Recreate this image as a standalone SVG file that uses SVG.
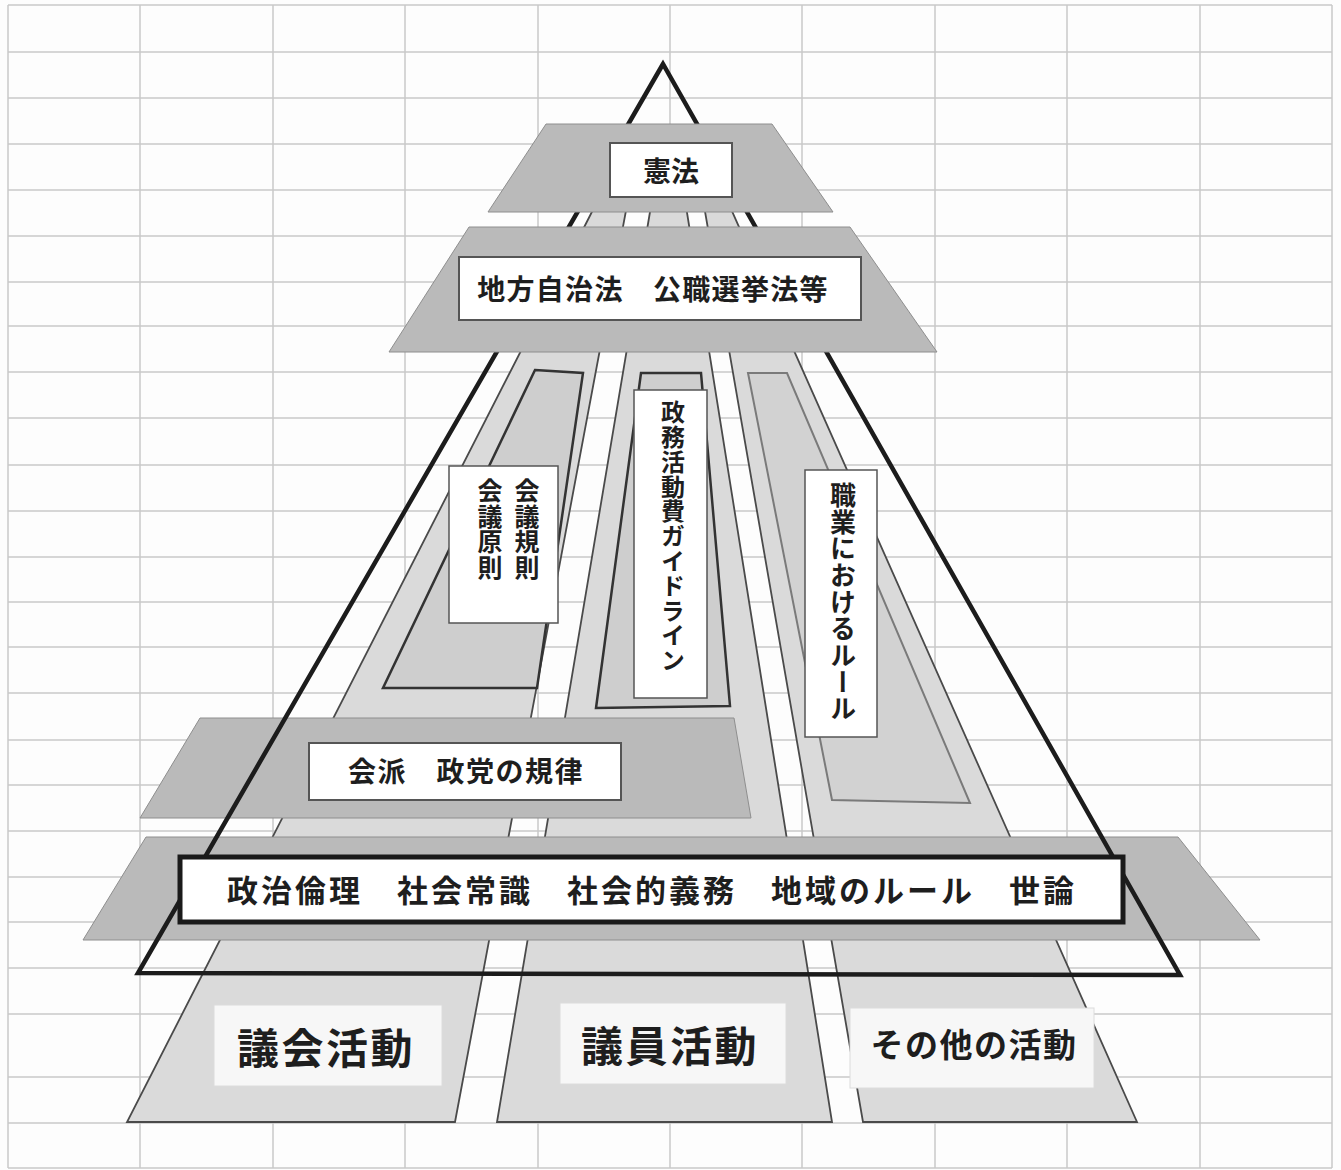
<svg xmlns="http://www.w3.org/2000/svg" width="1341" height="1170" viewBox="0 0 1341 1170">
<style>
.grid line{stroke:#c8c8c8;stroke-width:1.5}
.col{fill:#dadada;stroke:#4a4a4a;stroke-width:1.8}
.panel{fill:#cecece;stroke:#333;stroke-width:2.5}
.panel2{fill:#d2d2d2;stroke:#7a7a7a;stroke-width:2}
.band{fill:#bababa;stroke:#8e8e8e;stroke-width:1}
.box{fill:#fff;stroke:#555;stroke-width:2}
.vbox{fill:#fff;stroke:#555;stroke-width:1.5}
.bbox{fill:#f7f7f7;stroke:#dcdcdc;stroke-width:1}
text{font-family:"Noto Sans CJK JP","Noto Sans CJK SC",sans-serif;font-weight:bold;fill:#1e1e1e}
.h{text-anchor:middle;dominant-baseline:central}
.v{writing-mode:vertical-rl;text-anchor:start}
</style>
<rect width="1341" height="1170" fill="#fdfdfd"/>
<g class="grid" id="grid">
<line x1="8" y1="5" x2="8" y2="1168"/><line x1="140" y1="5" x2="140" y2="1168"/><line x1="273" y1="5" x2="273" y2="1168"/><line x1="405" y1="5" x2="405" y2="1168"/><line x1="538" y1="5" x2="538" y2="1168"/><line x1="670" y1="5" x2="670" y2="1168"/><line x1="802" y1="5" x2="802" y2="1168"/><line x1="935" y1="5" x2="935" y2="1168"/><line x1="1067" y1="5" x2="1067" y2="1168"/><line x1="1200" y1="5" x2="1200" y2="1168"/><line x1="1332" y1="5" x2="1332" y2="1168"/>
<line x1="8" y1="5" x2="1332" y2="5"/><line x1="8" y1="52" x2="1332" y2="52"/><line x1="8" y1="98" x2="1332" y2="98"/><line x1="8" y1="144" x2="1332" y2="144"/><line x1="8" y1="190" x2="1332" y2="190"/><line x1="8" y1="236" x2="1332" y2="236"/><line x1="8" y1="282" x2="1332" y2="282"/><line x1="8" y1="326" x2="1332" y2="326"/><line x1="8" y1="372" x2="1332" y2="372"/><line x1="8" y1="418" x2="1332" y2="418"/><line x1="8" y1="465" x2="1332" y2="465"/><line x1="8" y1="511" x2="1332" y2="511"/><line x1="8" y1="557" x2="1332" y2="557"/><line x1="8" y1="602" x2="1332" y2="602"/><line x1="8" y1="647" x2="1332" y2="647"/><line x1="8" y1="693" x2="1332" y2="693"/><line x1="8" y1="740" x2="1332" y2="740"/><line x1="8" y1="785" x2="1332" y2="785"/><line x1="8" y1="831" x2="1332" y2="831"/><line x1="8" y1="877" x2="1332" y2="877"/><line x1="8" y1="922" x2="1332" y2="922"/><line x1="8" y1="968" x2="1332" y2="968"/><line x1="8" y1="1014" x2="1332" y2="1014"/><line x1="8" y1="1077" x2="1332" y2="1077"/><line x1="8" y1="1123" x2="1332" y2="1123"/><line x1="8" y1="1168" x2="1332" y2="1168"/>
</g>
<g id="col-gikai"><polygon class="col" points="598,200 628,200 455,1122 127,1122"/></g>
<g id="col-giin"><polygon class="col" points="652,200 685,200 832,1122 497,1122"/></g>
<g id="col-other"><polygon class="col" points="703,200 727,200 1137,1122 863,1122"/></g>
<g id="panel-a"><polygon class="panel" points="535,370 583,373 537,688 383,688"/></g>
<g id="panel-b"><polygon class="panel" points="641,373 701,373 730,706 596,708"/></g>
<g id="panel-c"><polygon class="panel2" points="748,373 787,373 970,803 832,800"/></g>
<g id="band-kaiha"><polygon class="band" points="200,718 734,718 751,818 140,818"/></g>
<g id="band-rinri"><polygon class="band" points="146,837 1178,837 1260,940 83,940"/></g>
<g id="connectors"><polygon points="663,64 138,973 1180,975" fill="none" stroke="#1c1c1c" stroke-width="4.5" stroke-linejoin="miter"/></g>
<g id="band-kenpo"><polygon class="band" points="546,124 772,124 833,212 488,212"/></g>
<g id="band-chiho"><polygon class="band" points="469,227 850,227 937,352 389,352"/></g>
<g id="node-kenpo"><rect class="box" x="610" y="143" width="122" height="54"/><text class="h" x="671" y="170" font-size="28">憲法</text></g>
<g id="node-chiho"><rect class="box" x="459" y="257" width="402" height="63"/><text class="h" x="653" y="288" font-size="28" letter-spacing="1.3">地方自治法　公職選挙法等</text></g>
<g id="node-kaigi"><rect class="vbox" x="449" y="466" width="109" height="157"/><text class="v" x="527" y="478" font-size="25" letter-spacing="0.5">会議規則</text><text class="v" x="490" y="478" font-size="25" letter-spacing="0.5">会議原則</text></g>
<g id="node-seimu"><rect class="vbox" x="634" y="390" width="73" height="308"/><text class="v" x="673" y="400" font-size="24" letter-spacing="0.8">政務活動費ガイドライン</text></g>
<g id="node-shokugyo"><rect class="vbox" x="805" y="470" width="72" height="267"/><text class="v" x="843" y="482" font-size="26" letter-spacing="0.7">職業におけるルール</text></g>
<g id="node-kaiha"><rect class="box" x="309" y="743" width="312" height="57"/><text class="h" x="466" y="770" font-size="28" letter-spacing="1.5">会派　政党の規律</text></g>
<g id="node-rinri"><rect x="180" y="857" width="943" height="65" fill="#fff" stroke="#1a1a1a" stroke-width="5"/><text class="h" x="652" y="888" font-size="31" letter-spacing="3">政治倫理　社会常識　社会的義務　地域のルール　世論</text></g>
<g id="node-gikai"><rect class="bbox" x="214" y="1005" width="228" height="81"/><text class="h" x="326" y="1045" font-size="42" letter-spacing="2.5">議会活動</text></g>
<g id="node-giin"><rect class="bbox" x="560" y="1003" width="226" height="81"/><text class="h" x="670" y="1043" font-size="42" letter-spacing="2.5">議員活動</text></g>
<g id="node-other"><rect class="bbox" x="850" y="1008" width="244" height="80"/><text class="h" x="974" y="1043" font-size="33" letter-spacing="1.5">その他の活動</text></g>
</svg>
